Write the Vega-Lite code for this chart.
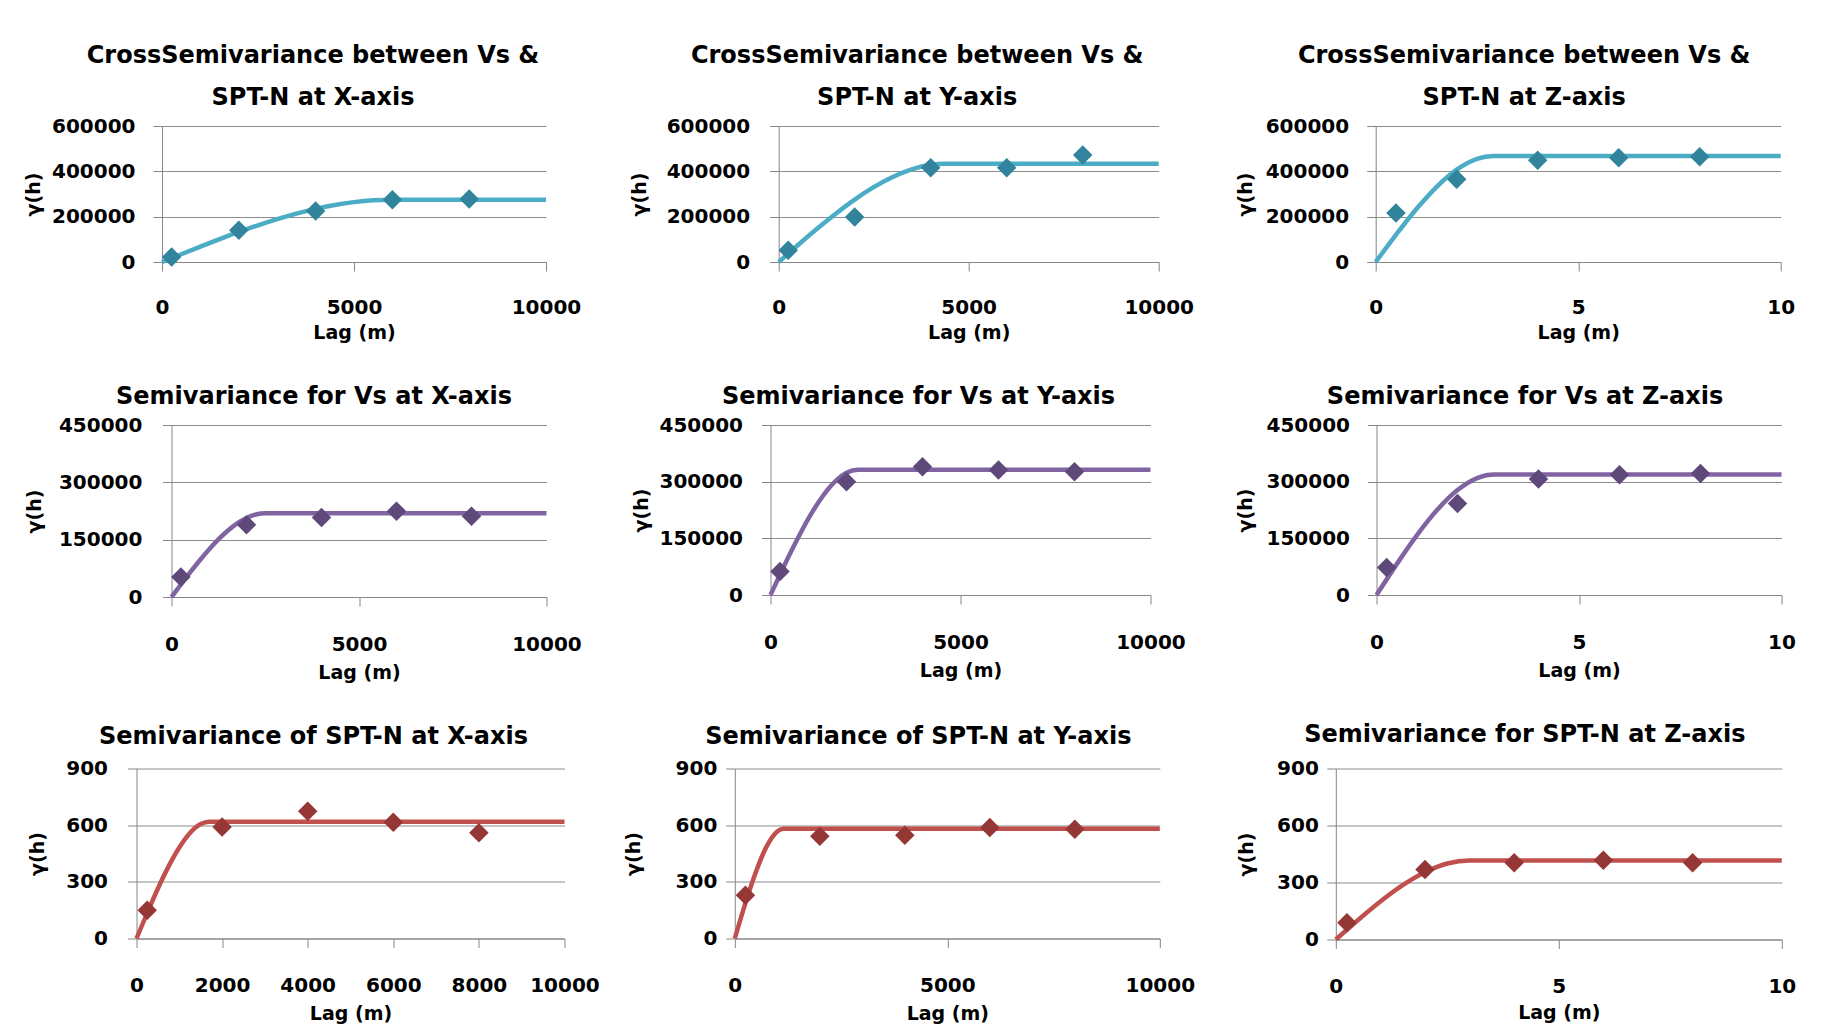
{
  "$schema": "https://vega.github.io/schema/vega-lite/v6.json",
  "background": "white",
  "padding": {"left": 0, "top": 44, "right": 0, "bottom": 0},
  "datasets": {
    "pts": [
      {"p": "cx", "lag": 250, "g": 22000}, {"p": "cx", "lag": 2000, "g": 140000}, {"p": "cx", "lag": 4000, "g": 225000}, {"p": "cx", "lag": 6000, "g": 275000}, {"p": "cx", "lag": 8000, "g": 278000},
      {"p": "cy", "lag": 250, "g": 51500}, {"p": "cy", "lag": 2000, "g": 198500}, {"p": "cy", "lag": 4000, "g": 416000}, {"p": "cy", "lag": 6000, "g": 416000}, {"p": "cy", "lag": 8000, "g": 472000},
      {"p": "cz", "lag": 0.5, "g": 216000}, {"p": "cz", "lag": 2, "g": 364700}, {"p": "cz", "lag": 4, "g": 448500}, {"p": "cz", "lag": 6, "g": 460300}, {"p": "cz", "lag": 8, "g": 464700},
      {"p": "vx", "lag": 250, "g": 52200}, {"p": "vx", "lag": 2000, "g": 188900}, {"p": "vx", "lag": 4000, "g": 208000}, {"p": "vx", "lag": 6000, "g": 224600}, {"p": "vx", "lag": 8000, "g": 211500},
      {"p": "vy", "lag": 250, "g": 61900}, {"p": "vy", "lag": 2000, "g": 299700}, {"p": "vy", "lag": 4000, "g": 339500}, {"p": "vy", "lag": 6000, "g": 330600}, {"p": "vy", "lag": 8000, "g": 326200},
      {"p": "vz", "lag": 0.25, "g": 72500}, {"p": "vz", "lag": 2, "g": 242200}, {"p": "vz", "lag": 4, "g": 306800}, {"p": "vz", "lag": 6, "g": 318300}, {"p": "vz", "lag": 8, "g": 321800},
      {"p": "nx", "lag": 250, "g": 150}, {"p": "nx", "lag": 2000, "g": 590}, {"p": "nx", "lag": 4000, "g": 674}, {"p": "nx", "lag": 6000, "g": 616}, {"p": "nx", "lag": 8000, "g": 560},
      {"p": "ny", "lag": 250, "g": 229}, {"p": "ny", "lag": 2000, "g": 541}, {"p": "ny", "lag": 4000, "g": 546}, {"p": "ny", "lag": 6000, "g": 588}, {"p": "ny", "lag": 8000, "g": 579},
      {"p": "nz", "lag": 0.25, "g": 88}, {"p": "nz", "lag": 2, "g": 369}, {"p": "nz", "lag": 4, "g": 404}, {"p": "nz", "lag": 6, "g": 417}, {"p": "nz", "lag": 8, "g": 404}
    ],
    "fit": [
      {"p": "cx", "lag": 0, "g": 0}, {"p": "cx", "lag": 500, "g": 34300}, {"p": "cx", "lag": 1000, "g": 68100}, {"p": "cx", "lag": 1500, "g": 101000}, {"p": "cx", "lag": 2000, "g": 132400}, {"p": "cx", "lag": 2500, "g": 161900}, {"p": "cx", "lag": 3000, "g": 189000}, {"p": "cx", "lag": 3500, "g": 213300}, {"p": "cx", "lag": 4000, "g": 234300}, {"p": "cx", "lag": 4500, "g": 251400}, {"p": "cx", "lag": 5000, "g": 264200}, {"p": "cx", "lag": 5500, "g": 272200}, {"p": "cx", "lag": 6000, "g": 275000}, {"p": "cx", "lag": 10000, "g": 275000},
      {"p": "cy", "lag": 0, "g": 0}, {"p": "cy", "lag": 500, "g": 73700}, {"p": "cy", "lag": 1000, "g": 145400}, {"p": "cy", "lag": 1500, "g": 213300}, {"p": "cy", "lag": 2000, "g": 275600}, {"p": "cy", "lag": 2500, "g": 330100}, {"p": "cy", "lag": 3000, "g": 375100}, {"p": "cy", "lag": 3500, "g": 408600}, {"p": "cy", "lag": 4000, "g": 428800}, {"p": "cy", "lag": 4400, "g": 434000}, {"p": "cy", "lag": 10000, "g": 434000},
      {"p": "cz", "lag": 0, "g": 0}, {"p": "cz", "lag": 0.5, "g": 119800}, {"p": "cz", "lag": 1, "g": 232500}, {"p": "cz", "lag": 1.5, "g": 330700}, {"p": "cz", "lag": 2, "g": 407400}, {"p": "cz", "lag": 2.5, "g": 455300}, {"p": "cz", "lag": 2.9, "g": 468000}, {"p": "cz", "lag": 10, "g": 468000},
      {"p": "vx", "lag": 0, "g": 0}, {"p": "vx", "lag": 250, "g": 32700}, {"p": "vx", "lag": 500, "g": 64800}, {"p": "vx", "lag": 750, "g": 95600}, {"p": "vx", "lag": 1000, "g": 124400}, {"p": "vx", "lag": 1250, "g": 150600}, {"p": "vx", "lag": 1500, "g": 173400}, {"p": "vx", "lag": 1750, "g": 192400}, {"p": "vx", "lag": 2000, "g": 206700}, {"p": "vx", "lag": 2250, "g": 215800}, {"p": "vx", "lag": 2500, "g": 219000}, {"p": "vx", "lag": 10000, "g": 219000},
      {"p": "vy", "lag": 0, "g": 0}, {"p": "vy", "lag": 250, "g": 54000}, {"p": "vy", "lag": 500, "g": 106400}, {"p": "vy", "lag": 750, "g": 156000}, {"p": "vy", "lag": 1000, "g": 202600}, {"p": "vy", "lag": 1250, "g": 243600}, {"p": "vy", "lag": 1500, "g": 278300}, {"p": "vy", "lag": 1750, "g": 305300}, {"p": "vy", "lag": 2000, "g": 323400}, {"p": "vy", "lag": 2300, "g": 331500}, {"p": "vy", "lag": 10000, "g": 331500},
      {"p": "vz", "lag": 0, "g": 0}, {"p": "vz", "lag": 0.5, "g": 81700}, {"p": "vz", "lag": 1, "g": 158400}, {"p": "vz", "lag": 1.5, "g": 225400}, {"p": "vz", "lag": 2, "g": 277700}, {"p": "vz", "lag": 2.5, "g": 310300}, {"p": "vz", "lag": 2.9, "g": 319000}, {"p": "vz", "lag": 10, "g": 319000},
      {"p": "nx", "lag": 0, "g": 0}, {"p": "nx", "lag": 250, "g": 135}, {"p": "nx", "lag": 500, "g": 265}, {"p": "nx", "lag": 750, "g": 382}, {"p": "nx", "lag": 1000, "g": 482}, {"p": "nx", "lag": 1250, "g": 559}, {"p": "nx", "lag": 1500, "g": 606}, {"p": "nx", "lag": 1700, "g": 618}, {"p": "nx", "lag": 10000, "g": 618},
      {"p": "ny", "lag": 0, "g": 0}, {"p": "ny", "lag": 250, "g": 187}, {"p": "ny", "lag": 500, "g": 355}, {"p": "ny", "lag": 750, "g": 488}, {"p": "ny", "lag": 1000, "g": 567}, {"p": "ny", "lag": 1150, "g": 581}, {"p": "ny", "lag": 10000, "g": 581},
      {"p": "nz", "lag": 0, "g": 0}, {"p": "nz", "lag": 0.5, "g": 103}, {"p": "nz", "lag": 1, "g": 200}, {"p": "nz", "lag": 1.5, "g": 286}, {"p": "nz", "lag": 2, "g": 354}, {"p": "nz", "lag": 2.5, "g": 400}, {"p": "nz", "lag": 3, "g": 416}, {"p": "nz", "lag": 10, "g": 416}
    ]
  },
  "spacing": 43,
  "vconcat": [
    {
      "spacing": 23,
      "hconcat": [
        {"width": 1, "height": 1, "data": {"values": []}, "mark": "point"},
        {
          "spacing": 48.7,
          "hconcat": [
            {
              "width": 384, "height": 136,
              "title": {"text": ["CrossSemivariance between Vs &", "SPT-N at X-axis"], "dx": -41},
              "encoding": {
                "x": {"field": "lag", "type": "quantitative", "scale": {"domain": [0, 10000], "nice": false}, "axis": {"values": [0, 5000, 10000], "title": "Lag (m)"}},
                "y": {"field": "g", "type": "quantitative", "scale": {"domain": [0, 600000], "nice": false}, "axis": {"values": [0, 200000, 400000, 600000], "title": "γ(h)", "labelPadding": 18, "titlePadding": 8}}
              },
              "layer": [
                {"data": {"name": "fit"}, "transform": [{"filter": "datum.p === 'cx'"}], "mark": {"type": "line", "color": "#4BACC6", "strokeWidth": 4.5, "interpolate": "monotone"}, "encoding": {}},
                {"data": {"name": "pts"}, "transform": [{"filter": "datum.p === 'cx'"}], "mark": {"type": "point", "shape": "diamond", "filled": true, "opacity": 1, "size": 380, "color": "#31849B"}, "encoding": {}}
              ]
            },
            {
              "spacing": 42,
              "hconcat": [
                {
                  "width": 380, "height": 136,
                  "title": {"text": ["CrossSemivariance between Vs &", "SPT-N at Y-axis"], "dx": -51.5},
                  "encoding": {
                    "x": {"field": "lag", "type": "quantitative", "scale": {"domain": [0, 10000], "nice": false}, "axis": {"values": [0, 5000, 10000], "title": "Lag (m)"}},
                    "y": {"field": "g", "type": "quantitative", "scale": {"domain": [0, 600000], "nice": false}, "axis": {"values": [0, 200000, 400000, 600000], "title": "γ(h)", "labelPadding": 20, "titlePadding": 17}}
                  },
                  "layer": [
                    {"data": {"name": "fit"}, "transform": [{"filter": "datum.p === 'cy'"}], "mark": {"type": "line", "color": "#4BACC6", "strokeWidth": 4.5, "interpolate": "monotone"}, "encoding": {}},
                    {"data": {"name": "pts"}, "transform": [{"filter": "datum.p === 'cy'"}], "mark": {"type": "point", "shape": "diamond", "filled": true, "opacity": 1, "size": 380, "color": "#31849B"}, "encoding": {}}
                  ]
                },
                {
                  "width": 405, "height": 136,
                  "title": {"text": ["CrossSemivariance between Vs &", "SPT-N at Z-axis"], "dx": -54},
                  "encoding": {
                    "x": {"field": "lag", "type": "quantitative", "scale": {"domain": [0, 10], "nice": false}, "axis": {"values": [0, 5, 10], "title": "Lag (m)"}},
                    "y": {"field": "g", "type": "quantitative", "scale": {"domain": [0, 600000], "nice": false}, "axis": {"values": [0, 200000, 400000, 600000], "title": "γ(h)", "labelPadding": 18, "titlePadding": 10}}
                  },
                  "layer": [
                    {"data": {"name": "fit"}, "transform": [{"filter": "datum.p === 'cz'"}], "mark": {"type": "line", "color": "#4BACC6", "strokeWidth": 4.5, "interpolate": "monotone"}, "encoding": {}},
                    {"data": {"name": "pts"}, "transform": [{"filter": "datum.p === 'cz'"}], "mark": {"type": "point", "shape": "diamond", "filled": true, "opacity": 1, "size": 380, "color": "#31849B"}, "encoding": {}}
                  ]
                }
              ]
            }
          ]
        }
      ]
    },
    {
      "spacing": 40.5,
      "vconcat": [
        {
          "spacing": 23.5,
          "hconcat": [
            {"width": 1, "height": 1, "data": {"values": []}, "mark": "point"},
            {
              "spacing": 50,
              "hconcat": [
                {
                  "width": 375, "height": 172,
                  "title": {"text": "Semivariance for Vs at X-axis", "dx": -45},
                  "encoding": {
                    "x": {"field": "lag", "type": "quantitative", "scale": {"domain": [0, 10000], "nice": false}, "axis": {"values": [0, 5000, 10000], "title": "Lag (m)", "labelPadding": 28, "titlePadding": 9}},
                    "y": {"field": "g", "type": "quantitative", "scale": {"domain": [0, 450000], "nice": false}, "axis": {"values": [0, 150000, 300000, 450000], "title": "γ(h)", "labelPadding": 20.6, "titlePadding": 14}}
                  },
                  "layer": [
                    {"data": {"name": "fit"}, "transform": [{"filter": "datum.p === 'vx'"}], "mark": {"type": "line", "color": "#8064A2", "strokeWidth": 4.5, "interpolate": "monotone"}, "encoding": {}},
                    {"data": {"name": "pts"}, "transform": [{"filter": "datum.p === 'vx'"}], "mark": {"type": "point", "shape": "diamond", "filled": true, "opacity": 1, "size": 380, "color": "#5F497A"}, "encoding": {}}
                  ]
                },
                {
                  "width": 380, "height": 170,
                  "title": {"text": "Semivariance for Vs at Y-axis", "dx": -42},
                  "encoding": {
                    "x": {"field": "lag", "type": "quantitative", "scale": {"domain": [0, 10000], "nice": false}, "axis": {"values": [0, 5000, 10000], "title": "Lag (m)", "labelPadding": 28, "titlePadding": 9}},
                    "y": {"field": "g", "type": "quantitative", "scale": {"domain": [0, 450000], "nice": false}, "axis": {"values": [0, 150000, 300000, 450000], "title": "γ(h)", "labelPadding": 19, "titlePadding": 8}}
                  },
                  "layer": [
                    {"data": {"name": "fit"}, "transform": [{"filter": "datum.p === 'vy'"}], "mark": {"type": "line", "color": "#8064A2", "strokeWidth": 4.5, "interpolate": "monotone"}, "encoding": {}},
                    {"data": {"name": "pts"}, "transform": [{"filter": "datum.p === 'vy'"}], "mark": {"type": "point", "shape": "diamond", "filled": true, "opacity": 1, "size": 380, "color": "#5F497A"}, "encoding": {}}
                  ]
                },
                {
                  "width": 405, "height": 170,
                  "title": {"text": "Semivariance for Vs at Z-axis", "dx": -54},
                  "encoding": {
                    "x": {"field": "lag", "type": "quantitative", "scale": {"domain": [0, 10], "nice": false}, "axis": {"values": [0, 5, 10], "title": "Lag (m)", "labelPadding": 28, "titlePadding": 9}},
                    "y": {"field": "g", "type": "quantitative", "scale": {"domain": [0, 450000], "nice": false}, "axis": {"values": [0, 150000, 300000, 450000], "title": "γ(h)", "labelPadding": 18, "titlePadding": 11}}
                  },
                  "layer": [
                    {"data": {"name": "fit"}, "transform": [{"filter": "datum.p === 'vz'"}], "mark": {"type": "line", "color": "#8064A2", "strokeWidth": 4.5, "interpolate": "monotone"}, "encoding": {}},
                    {"data": {"name": "pts"}, "transform": [{"filter": "datum.p === 'vz'"}], "mark": {"type": "point", "shape": "diamond", "filled": true, "opacity": 1, "size": 380, "color": "#5F497A"}, "encoding": {}}
                  ]
                }
              ]
            }
          ]
        },
        {
          "spacing": 26.5,
          "hconcat": [
            {"width": 1, "height": 1, "data": {"values": []}, "mark": "point"},
            {
              "spacing": 24.3,
              "hconcat": [
                {
                  "width": 428, "height": 170,
                  "title": {"text": "Semivariance of SPT-N at X-axis", "dx": -37, "offset": 10},
                  "encoding": {
                    "x": {"field": "lag", "type": "quantitative", "scale": {"domain": [0, 10000], "nice": false}, "axis": {"values": [0, 2000, 4000, 6000, 8000, 10000], "title": "Lag (m)", "labelPadding": 28, "titlePadding": 9}},
                    "y": {"field": "g", "type": "quantitative", "scale": {"domain": [0, 900], "nice": false}, "axis": {"values": [0, 300, 600, 900], "title": "γ(h)", "labelPadding": 20, "titlePadding": 18.5}}
                  },
                  "layer": [
                    {"data": {"name": "fit"}, "transform": [{"filter": "datum.p === 'nx'"}], "mark": {"type": "line", "color": "#C0504D", "strokeWidth": 4.5, "interpolate": "monotone"}, "encoding": {}},
                    {"data": {"name": "pts"}, "transform": [{"filter": "datum.p === 'nx'"}], "mark": {"type": "point", "shape": "diamond", "filled": true, "opacity": 1, "size": 380, "color": "#953735"}, "encoding": {}}
                  ]
                },
                {
                  "spacing": 42,
                  "hconcat": [
                    {
                      "width": 425, "height": 170,
                      "title": {"text": "Semivariance of SPT-N at Y-axis", "dx": -29, "offset": 10},
                      "encoding": {
                        "x": {"field": "lag", "type": "quantitative", "scale": {"domain": [0, 10000], "nice": false}, "axis": {"values": [0, 5000, 10000], "title": "Lag (m)", "labelPadding": 28, "titlePadding": 9}},
                        "y": {"field": "g", "type": "quantitative", "scale": {"domain": [0, 900], "nice": false}, "axis": {"values": [0, 300, 600, 900], "title": "γ(h)", "labelPadding": 9, "titlePadding": 32}}
                      },
                      "layer": [
                        {"data": {"name": "fit"}, "transform": [{"filter": "datum.p === 'ny'"}], "mark": {"type": "line", "color": "#C0504D", "strokeWidth": 4.5, "interpolate": "monotone"}, "encoding": {}},
                        {"data": {"name": "pts"}, "transform": [{"filter": "datum.p === 'ny'"}], "mark": {"type": "point", "shape": "diamond", "filled": true, "opacity": 1, "size": 380, "color": "#953735"}, "encoding": {}}
                      ]
                    },
                    {
                      "width": 446, "height": 171,
                      "title": {"text": "Semivariance for SPT-N at Z-axis", "dx": -34, "offset": 12},
                      "encoding": {
                        "x": {"field": "lag", "type": "quantitative", "scale": {"domain": [0, 10], "nice": false}, "axis": {"values": [0, 5, 10], "title": "Lag (m)", "labelPadding": 28, "titlePadding": 7}},
                        "y": {"field": "g", "type": "quantitative", "scale": {"domain": [0, 900], "nice": false}, "axis": {"values": [0, 300, 600, 900], "title": "γ(h)", "labelPadding": 8.5, "titlePadding": 20.5}}
                      },
                      "layer": [
                        {"data": {"name": "fit"}, "transform": [{"filter": "datum.p === 'nz'"}], "mark": {"type": "line", "color": "#C0504D", "strokeWidth": 4.5, "interpolate": "monotone"}, "encoding": {}},
                        {"data": {"name": "pts"}, "transform": [{"filter": "datum.p === 'nz'"}], "mark": {"type": "point", "shape": "diamond", "filled": true, "opacity": 1, "size": 380, "color": "#953735"}, "encoding": {}}
                      ]
                    }
                  ]
                }
              ]
            }
          ]
        }
      ]
    }
  ],
  "config": {
    "font": "DejaVu Sans",
    "numberFormat": "d",
    "view": {"stroke": null},
    "title": {"font": "DejaVu Sans", "fontSize": 24, "fontWeight": "bold", "color": "#000000", "anchor": "middle", "frame": "group", "lineHeight": 42, "offset": 6},
    "axis": {
      "labelFont": "DejaVu Sans", "labelFontSize": 20, "labelFontWeight": "bold", "labelColor": "#000000",
      "titleFont": "DejaVu Sans", "titleFontSize": 19, "titleFontWeight": "bold", "titleColor": "#000000",
      "domainColor": "#868686", "tickColor": "#868686", "gridColor": "#8c8c8c", "tickSize": 9,
      "labelFlush": false, "labelOverlap": false
    },
    "axisX": {"grid": false, "labelPadding": 26, "titlePadding": 6},
    "axisY": {"grid": true}
  }
}
